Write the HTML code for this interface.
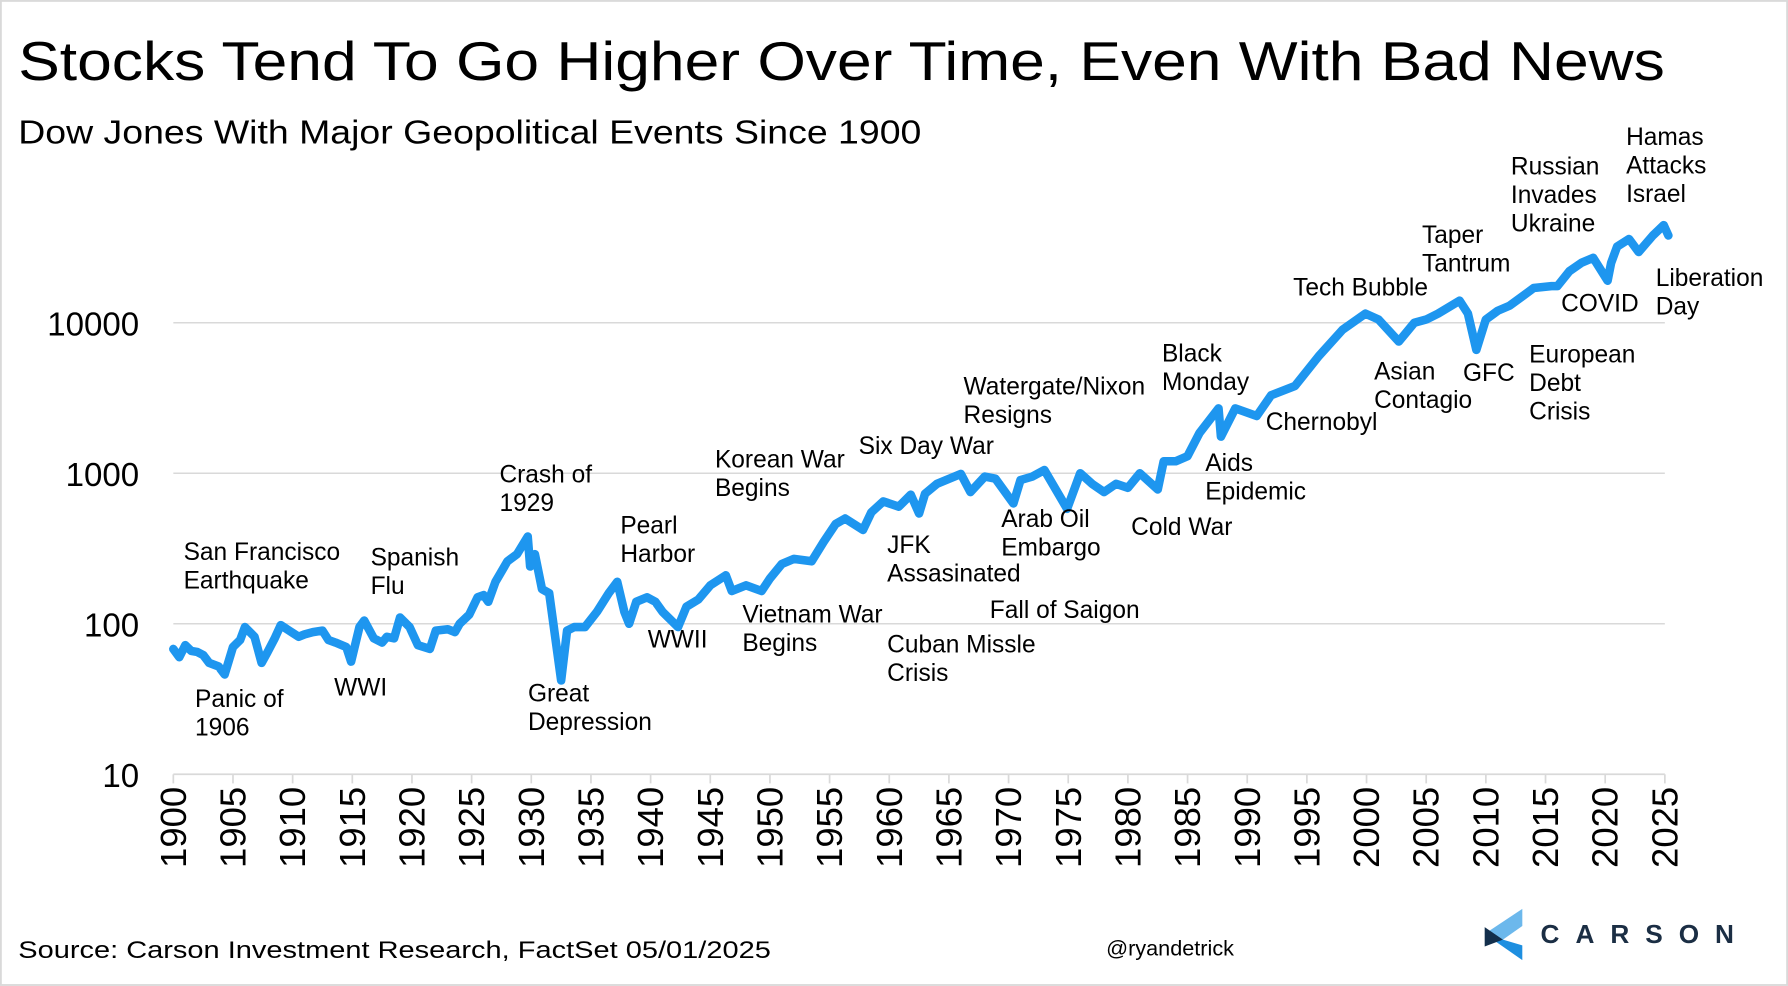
<!DOCTYPE html>
<html><head><meta charset="utf-8"><style>
html,body{margin:0;padding:0;background:#fff;}
svg{display:block;font-family:"Liberation Sans",Arial,sans-serif;}
</style></head><body>
<svg id="chart" width="1788" height="986" viewBox="0 0 1568 864.65" xmlns="http://www.w3.org/2000/svg">
<rect x="0.8" y="0.8" width="1566.4" height="863" fill="#fff" stroke="#d9d9d9" stroke-width="1.6"/>
<text x="16" y="70" font-size="48" textLength="1444" lengthAdjust="spacingAndGlyphs">Stocks Tend To Go Higher Over Time, Even With Bad News</text>
<text x="16" y="126" font-size="29" textLength="792" lengthAdjust="spacingAndGlyphs">Dow Jones With Major Geopolitical Events Since 1900</text>
<g id="grid"></g>
<g id="axes"></g>
<path id="series" fill="none" stroke="#1e96ef" stroke-width="7.5" stroke-linejoin="round" stroke-linecap="round"/>
<g id="notes" font-size="21.5" fill="#000"></g>
<text x="16" y="840" font-size="21" textLength="660" lengthAdjust="spacingAndGlyphs">Source: Carson Investment Research, FactSet 05/01/2025</text>
<text x="970" y="838" font-size="19">@ryandetrick</text>
<g>
<polygon points="1302,819 1335,797 1335,812 1318,824" fill="#6cb8ec"/>
<polygon points="1302,819 1318,824 1335,829 1335,842" fill="#1e8fe0"/>
<polygon points="1302,813 1318,824 1302,830" fill="#132f4c"/>
<text x="1351" y="827" font-size="23" font-weight="bold" fill="#1b2e44" letter-spacing="14">CARSON</text>
</g>
</svg>
<script>
const yearsData=[1900,1900.5,1901,1901.5,1902,1902.5,1903,1903.8,1904.3,1905,1905.6,1906,1906.8,1907.4,1907.9,1908.5,1909,1909.7,1910.5,1911,1911.7,1912.5,1913,1913.6,1914.5,1914.9,1915.6,1916,1916.8,1917.5,1917.9,1918.5,1919,1919.8,1920.5,1921.5,1922,1923,1923.6,1924,1924.8,1925.5,1926,1926.4,1927,1928,1928.8,1929.7,1929.9,1930.3,1930.9,1931.5,1932.5,1933,1933.6,1934.5,1935.5,1936.5,1937.2,1937.8,1938.2,1938.8,1939.7,1940.4,1941,1942.3,1943,1944,1945,1946.3,1946.8,1948,1949.3,1950,1951,1952,1953.5,1954.5,1955.5,1956.3,1957.8,1958.5,1959.5,1960.8,1961.8,1962.5,1963,1964,1966,1966.8,1968,1968.9,1970.4,1971,1972,1973,1974.9,1976,1977,1978,1979,1980,1981,1982.5,1983,1984,1985,1986,1987.6,1987.8,1989,1990.8,1992,1994,1996,1998,1999.9,2001,2002.7,2004,2005,2006,2007.8,2008.5,2009.2,2010,2011,2012,2014,2015.5,2016,2017,2018,2019,2020.2,2020.5,2021,2022,2022.8,2024,2024.9,2025.3];
const valuesData=[68,60,72,66,65,62,55,52,46,70,78,95,82,55,65,80,98,90,82,85,88,90,78,75,70,56,95,105,80,75,82,80,110,95,72,68,90,92,88,100,115,150,155,140,190,260,290,380,240,290,170,160,42,90,95,95,120,160,190,120,100,140,150,140,120,95,130,145,180,210,165,180,165,200,250,270,260,350,460,500,420,550,650,600,720,540,730,850,990,750,950,920,630,900,950,1050,580,1000,850,750,850,800,1000,780,1200,1200,1300,1850,2700,1750,2700,2400,3300,3800,6000,9000,11500,10500,7500,10000,10500,11500,14000,11500,6600,10500,12000,13000,17000,17500,17500,22000,25000,27000,19000,25000,32000,36000,29500,38000,44500,38000];
const yTickValues=[10,100,1000,10000];
const yTickLabels=["10","100","1000","10000"];
const xTickYears=[];for(let y=1900;y<=2025;y+=5)xTickYears.push(y);
const noteTexts=[["San Francisco","Earthquake"],["Spanish","Flu"],["Panic of","1906"],["WWI"],["Crash of","1929"],["Great","Depression"],["Pearl","Harbor"],["WWII"],["Korean War","Begins"],["Vietnam War","Begins"],["Six Day War"],["JFK","Assasinated"],["Cuban Missle","Crisis"],["Watergate/Nixon","Resigns"],["Arab Oil","Embargo"],["Fall of Saigon"],["Cold War"],["Black","Monday"],["Aids","Epidemic"],["Chernobyl"],["Tech Bubble"],["Asian","Contagio"],["Taper","Tantrum"],["GFC"],["Russian","Invades","Ukraine"],["COVID"],["European","Debt","Crisis"],["Hamas","Attacks","Israel"],["Liberation","Day"]];
const noteAnchors=[[161,491],[325,496],[171,620],[293,610],[438,423],[463,615],[544,468],[568,568],[627,410],[651,546],[753,398],[778,485],[778,572],[845,346],[878,462],[868,542],[992,469],[1019,317],[1057,413],[1110,377],[1134,259],[1205,333],[1247,213],[1283,334],[1325,153],[1369,273],[1341,318],[1426,127],[1452,251]];
const NS="http://www.w3.org/2000/svg";
const X0=152,X1=1460,Y10=679,DEC=132;
function xS(yr){return X0+(yr-1900)*(X1-X0)/125;}
function yS(v){return Y10-(Math.log10(v)-1)*DEC;}
function mk(tag,attrs,parent){const e=document.createElementNS(NS,tag);for(const k in attrs)e.setAttribute(k,attrs[k]);parent.appendChild(e);return e;}
const grid=document.getElementById('grid'),axes=document.getElementById('axes');
yTickValues.forEach((v,i)=>{
 if(i>0){const l=mk('line',{x1:X0,x2:X1,y1:yS(v),y2:yS(v),stroke:'#d9d9d9','stroke-width':1.3},grid);
 
 }
 const t=mk('text',{x:122,y:yS(v)+11,'font-size':29,'text-anchor':'end'},axes);t.textContent=yTickLabels[i];
 
 
});
const ax=mk('line',{x1:X0,x2:X1,y1:Y10,y2:Y10,stroke:'#d9d9d9','stroke-width':1.5},axes);


xTickYears.forEach(yr=>{
 const x=xS(yr);
 const tk=mk('line',{x1:x,x2:x,y1:Y10,y2:Y10+8,stroke:'#d9d9d9','stroke-width':1.5},axes);
 
 
 const t=mk('text',{x:0,y:0,'font-size':32,'text-anchor':'end',transform:`translate(${x+11},690) rotate(-90)`},axes);
 t.textContent=String(yr);
 
 
});
let d='';yearsData.forEach((yr,i)=>{d+=(i?'L':'M')+xS(yr).toFixed(1)+','+yS(valuesData[i]).toFixed(1);});
document.getElementById('series').setAttribute('d',d);
const notes=document.getElementById('notes');
noteTexts.forEach((lines,i)=>{
 const t=mk('text',{x:noteAnchors[i][0],y:noteAnchors[i][1]},notes);
 
 
 lines.forEach((s,j)=>{const ts=mk('tspan',{x:noteAnchors[i][0],dy:j?25:0},t);ts.textContent=s;});
});
</script>
</body></html>
